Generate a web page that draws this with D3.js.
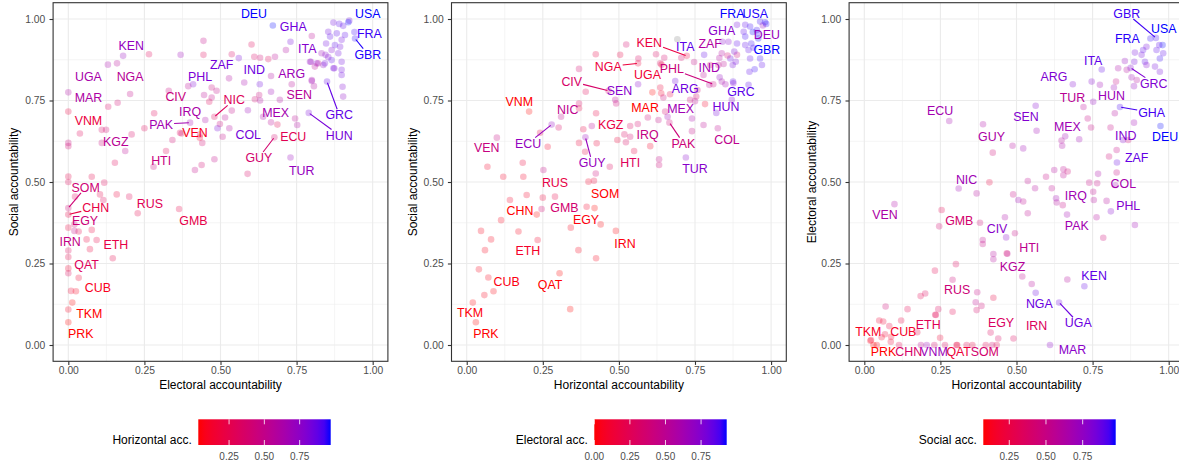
<!DOCTYPE html>
<html><head><meta charset="utf-8">
<script src="https://cdn.jsdelivr.net/npm/d3@7"></script>
<style>
body{margin:0;background:#fff}
svg{display:block}
text{font-family:"Liberation Sans",Arial,Helvetica,sans-serif}
</style>
</head><body>
<svg id="c" width="1179" height="466"></svg>
<script>
// ---------- labelled countries: electoral, horizontal, social accountability ----------
const codes =      ["PRK","TKM","CUB","QAT","ETH","IRN","EGY","CHN","SOM","RUS","GMB","HTI","KGZ","VNM","MAR","UGA","NGA","KEN","CIV","PHL","ZAF","IND","ARG","SEN","NIC","PAK","IRQ","VEN","COL","MEX","ECU","GUY","TUR","HUN","GRC","ITA","GHA","DEU","USA","FRA","GBR"];
const electoral =  [0,    0.013,0.025,0,    0.093,0.02, 0.02, 0,    0,    0.2,  0.364,0.28, 0.187,0,    0,    0.13, 0.16, 0.18, 0.33, 0.41, 0.56, 0.629,0.8,  0.734,0.48, 0.40, 0.45, 0.432,0.49, 0.64, 0.687,0.677,0.73, 0.79, 0.85, 0.845,0.73, 0.672,0.92, 0.94, 0.942];
const horizontal = [0.03, 0.02, 0.088,0.305,0.233,0.49, 0.44, 0.23, 0.42, 0.29, 0.246,0.47, 0.55, 0.205,0.61, 0.64, 0.563,0.723,0.466,0.81, 0.83, 0.85, 0.685,0.563,0.31, 0.666,0.63, 0.099,0.825,0.66, 0.279,0.39, 0.72, 0.82, 0.875,0.78, 0.84, 0.973,0.98, 0.94, 0.958];
const social =     [0.07, 0.13, 0.165,0.22, 0.322,0.35, 0.37, 0.40, 0.42, 0.455,0.417,0.547,0.595,0.716,0.775,0.86, 0.864,0.887,0.78, 0.80, 0.88, 0.80, 0.81, 0.80, 0.70, 0.682,0.69, 0.636,0.665,0.70, 0.676,0.637,0.575,0.712,0.808,0.89, 0.93, 0.98, 0.99, 0.96, 0.94];

// ---------- unlabelled countries, per panel: [x, y, colour value] ----------
// panel 1: [electoral, social, horizontal]
const others1 = [
[0,0.62,0.45],[0,0.61,0.4],[0,0.517,0.25],[0,0.50,0.3],[0,0.36,0.2],[0,0.29,0.3],[0,0.27,0.25],[0,0.235,0.15],[0,0.109,0.1],
[0.038,0.649,0.3],[0.077,0.516,0.25],[0.022,0.455,0.3],[0.034,0.348,0.25],[0.06,0.324,0.2],[0.077,0.353,0.2],[0.071,0.294,0.2],[0.146,0.266,0.25],[0.034,0.206,0.15],[0.009,0.166,0.15],
[0.11,0.66,0.35],[0.124,0.66,0.4],[0.11,0.62,0.45],[0.118,0.498,0.3],[0.153,0.559,0.3],[0.104,0.462,0.25],[0.115,0.445,0.3],[0.159,0.462,0.2],[0.228,0.404,0.25],
[0.131,0.731,0.35],[0.162,0.743,0.4],[0.208,0.646,0.35],[0.203,0.77,0.5],[0.265,0.892,0.3],[0.369,0.89,0.7],
[0.282,0.711,0.3],[0.25,0.665,0.3],[0.342,0.629,0.4],[0.321,0.595,0.3],[0.372,0.649,0.4],[0.394,0.794,0.55],[0.416,0.537,0.5],
[0.444,0.933,0.5],[0.444,0.89,0.3],[0.537,0.892,0.35],[0.602,0.922,0.3],[0.611,0.884,0.35],[0.63,0.881,0.4],[0.657,0.877,0.3],[0.679,0.884,0.55],[0.715,0.905,0.6],[0.8,0.948,0.55],
[0.471,0.79,0.45],[0.487,0.78,0.5],[0.446,0.767,0.55],[0.471,0.759,0.5],[0.463,0.746,0.3],[0.528,0.818,0.6],[0.578,0.805,0.65],[0.613,0.754,0.4],[0.627,0.767,0.45],[0.63,0.75,0.6],[0.666,0.825,0.6],[0.666,0.777,0.7],[0.695,0.752,0.6],
[0.498,0.678,0.45],[0.515,0.698,0.55],[0.537,0.719,0.5],[0.433,0.646,0.3],[0.44,0.62,0.4],[0.367,0.651,0.3],[0.507,0.639,0.5],[0.529,0.665,0.6],[0.59,0.72,0.7],[0.666,0.683,0.55],[0.745,0.695,0.55],[0.752,0.675,0.6],
[0.438,0.552,0.4],[0.48,0.57,0.5],[0.589,0.525,0.35],
[0.797,0.869,0.7],[0.821,0.864,0.5],[0.807,0.794,0.6],[0.903,0.762,0.75],[0.838,0.859,0.75],[0.874,0.849,0.8],[0.898,0.844,0.85],
[0.871,0.989,0.85],[0.89,0.985,0.9],[0.903,0.979,0.9],[0.923,0.995,0.85],[0.854,0.961,0.85],[0.86,0.946,0.9],[0.847,0.925,0.85],[0.882,0.956,0.9],[0.909,0.951,0.9],[0.898,0.936,0.85],[0.876,0.92,0.9],[0.893,0.915,0.85],[0.865,0.905,0.8],[0.832,0.895,0.7],[0.887,0.895,0.85],[0.854,0.883,0.8],[0.865,0.874,0.9],[0.843,0.864,0.85],[0.898,0.869,0.85],[0.794,0.869,0.75],[0.816,0.864,0.8],[0.81,0.854,0.55],[0.871,0.849,0.85],[0.898,0.828,0.85],[0.8,0.813,0.65],[0.901,0.792,0.8]
];
// panel 2: [horizontal, social, electoral]  (null = missing)
const others2 = [
[0.068,0.547,0.1],[0.12,0.516,0.1],[0.184,0.559,0.15],[0.186,0.516,0.1],[0.142,0.445,0.1],[0.197,0.46,0.1],[0.113,0.383,0.05],[0.25,0.452,0.15],[0.252,0.537,0.45],[0.047,0.35,0.05],[0.08,0.324,0.05],[0.06,0.291,0.05],[0.17,0.348,0.05],[0.04,0.232,0.05],[0.071,0.207,0.05],[0.058,0.153,0.05],[0.34,0.11,0.0],[0.342,0.36,0.05],[0.367,0.291,0.05],[0.394,0.424,0.1],[0.425,0.266,0.05],
[0.302,0.667,0.3],[0.241,0.651,0.2],[0.266,0.608,0.1],[0.369,0.847,0.35],[0.369,0.741,0.3],[0.369,0.726,0.2],[0.369,0.62,0.15],[0.391,0.777,0.25],[0.383,0.662,0.2],[0.389,0.593,0.2],[0.411,0.672,0.5],[0.424,0.892,0.2],[0.425,0.711,0.2],[0.427,0.619,0.15],[0.424,0.526,0.4],[0.4,0.501,0.1],
[0.504,0.89,0.2],[0.524,0.922,0.35],[0.564,0.879,0.3],[0.622,0.892,0.3],[0.649,0.881,0.35],[0.636,0.864,0.3],[0.692,0.938,null],[0.705,0.881,0.35],[0.747,0.868,0.45],[0.668,0.769,0.2],[0.639,0.772,0.1],[0.636,0.79,0.15],[0.646,0.759,0.4],[0.734,0.752,0.4],[0.754,0.762,0.35],[0.783,0.739,0.1],[0.488,0.752,0.5],[0.491,0.741,0.4],
[0.537,0.672,0.3],[0.562,0.678,0.35],[0.595,0.698,0.4],[0.518,0.646,0.3],[0.537,0.639,0.35],[0.523,0.622,0.3],[0.495,0.629,0.15],[0.603,0.61,0.1],[0.632,0.57,0.45],[0.632,0.552,0.4],[0.418,0.504,0.15],[0.652,0.716,0.35],[0.74,0.695,0.6],[0.778,0.675,0.5],[0.74,0.656,0.45],[0.75,0.748,0.5],
[0.797,0.798,0.5],[0.838,0.808,0.6],[0.876,0.803,0.75],[0.926,0.798,0.85],[0.871,0.752,0.75],[0.758,0.782,0.35],[0.831,0.821,0.7],[0.778,0.828,0.5],[0.8,0.859,0.3],[0.827,0.859,0.45],[0.844,0.862,0.5],[0.838,0.895,0.55],[0.866,0.879,0.85],[0.874,0.859,0.8],[0.884,0.869,0.8],[0.888,0.89,0.4],[0.879,0.9,0.8],[0.888,0.925,0.85],[0.86,0.93,0.75],
[0.915,0.92,0.85],[0.915,0.946,0.9],[0.91,0.961,0.85],[0.915,0.982,0.85],[0.931,0.977,0.9],[0.953,0.966,0.9],[0.888,0.982,0.8],[0.935,0.925,0.9],[0.942,0.912,0.9],[0.926,0.905,0.85],[0.931,0.879,0.85],[0.964,0.879,0.9],[0.97,0.859,0.85],[0.946,0.846,0.9],[0.929,0.838,0.85],[0.964,0.992,0.9],[0.984,0.985,0.92],[0.956,0.956,0.9],[0.857,0.888,0.35]
];
// panel 3: [horizontal, electoral, social]
const others3 = [
[0.422,0.59,0.45],[0.411,0.499,0.25],[0.369,0.465,0.6],[0.254,0.414,0.3],[0.38,0.375,0.45],[0.389,0.322,0.55],[0.389,0.31,0.5],[0.301,0.248,0.35],[0.424,0.279,0.6],[0.424,0.263,0.6],[0.232,0.228,0.3],[0.185,0.15,0.3],[0.2,0.158,0.35],[0.142,0.11,0.3],[0.07,0.118,0.45],[0.371,0.162,0.5],[0.366,0.131,0.55],[0.385,0.12,0.45],[0.369,0.107,0.4],[0.29,0.102,0.3],[0.243,0.11,0.35],[0.235,0.092,0.3],[0.174,0.039,0.25],[0.121,0.075,0.25],[0.049,0.075,0.2],[0.062,0.072,0.2],[0.082,0.058,0.25],[0.068,0.033,0.2],[0.057,0.024,0.15],[0.087,0.01,0.2],[0.022,0.015,0.15],
[0.041,0,0.1],[0.114,0,0.3],[0.186,0,0.55],[0.265,0,0.35],[0.303,0,0.25],[0.336,0,0.3],[0.355,0,0.25],[0.399,0,0.3],[0.435,0,0.3],[0.249,0.022,0.2],[0.424,0.145,0.25],[0.415,0.038,0.35],
[0.487,0.611,0.6],[0.522,0.603,0.7],[0.489,0.462,0.5],[0.506,0.445,0.7],[0.522,0.44,0.55],[0.537,0.503,0.55],[0.561,0.481,0.6],[0.537,0.404,0.55],[0.462,0.392,0.65],[0.495,0.343,0.5],[0.468,0.281,0.35],[0.519,0.21,0.55],[0.667,0.201,0.6],
[0.566,0.657,0.7],[0.747,0.808,0.8],[0.774,0.798,0.7],[0.752,0.746,0.75],[0.734,0.695,0.5],[0.745,0.667,0.5],[0.648,0.627,0.6],[0.65,0.611,0.65],[0.706,0.631,0.7],[0.624,0.537,0.6],[0.654,0.539,0.55],[0.668,0.532,0.45],[0.654,0.521,0.55],[0.597,0.516,0.5],[0.616,0.481,0.55],[0.632,0.437,0.6],[0.652,0.429,0.5],
[0.739,0.498,0.5],[0.768,0.525,0.65],[0.765,0.496,0.5],[0.752,0.47,0.55],[0.754,0.445,0.6],[0.763,0.392,0.6],[0.785,0.329,0.45],[0.796,0.442,0.6],[0.889,0.368,0.7],[0.829,0.529,0.5],[0.804,0.578,0.45],[0.829,0.598,0.5],[0.867,0.629,0.45],[0.809,0.667,0.5],[0.886,0.682,0.7],[0.823,0.711,0.6],
[0.827,0.808,0.5],[0.834,0.849,0.65],[0.856,0.871,0.75],[0.862,0.844,0.6],[0.878,0.821,0.7],[0.886,0.794,0.75],[0.887,0.869,0.85],[0.889,0.897,0.85],[0.911,0.89,0.85],[0.916,0.905,0.9],[0.927,0.915,0.85],[0.922,0.869,0.9],[0.927,0.859,0.8],[0.96,0.905,0.9],[0.971,0.879,0.95],[0.982,0.895,0.9],[0.969,0.92,0.9],[0.971,0.838,0.85],[0.955,0.854,0.85],[0.895,0.813,0.6]
];

// ---------- ticks ----------
const axisTicks = [0, 0.25, 0.5, 0.75, 1];
const minorTicks = [0.125, 0.375, 0.625, 0.875];
const legTicks1 = [0.25, 0.5, 0.75];
const legTicks2 = [0, 0.25, 0.5, 0.75];
const legTicks3 = [0.25, 0.5, 0.75];
const colDomain1 = [0.032, 0.97];   // horizontal acc. range
const colDomain2 = [0, 0.93];       // electoral acc. range
const colDomain3 = [0.073, 0.975];  // social acc. range

// ---------- repelled label positions (data units) ----------
const labelPos1 = {DEU:[0.610,1.017],USA:[0.984,1.017],GHA:[0.739,0.976],FRA:[0.989,0.954],ITA:[0.785,0.910],GBR:[0.984,0.892],KEN:[0.207,0.920],ZAF:[0.504,0.861],UGA:[0.066,0.825],NGA:[0.203,0.825],PHL:[0.433,0.825],IND:[0.611,0.844],ARG:[0.734,0.834],MAR:[0.066,0.759],CIV:[0.353,0.762],NIC:[0.545,0.752],SEN:[0.759,0.769],VNM:[0.066,0.688],PAK:[0.305,0.677],IRQ:[0.400,0.716],MEX:[0.681,0.713],GRC:[0.890,0.706],VEN:[0.416,0.651],KGZ:[0.156,0.624],COL:[0.591,0.646],ECU:[0.739,0.639],HUN:[0.890,0.644],HTI:[0.305,0.567],GUY:[0.626,0.575],TUR:[0.767,0.535],SOM:[0.057,0.484],CHN:[0.090,0.421],RUS:[0.268,0.433],EGY:[0.055,0.383],GMB:[0.411,0.383],IRN:[0.006,0.317],ETH:[0.156,0.309],QAT:[0.060,0.248],CUB:[0.097,0.177],TKM:[0.069,0.097],PRK:[0.041,0.036]};
const labelPos2 = {FRA:[0.872,1.017],USA:[0.948,1.017],GHA:[0.838,0.964],DEU:[0.986,0.951],ITA:[0.718,0.915],ZAF:[0.800,0.925],GBR:[0.986,0.905],KEN:[0.600,0.929],NGA:[0.465,0.854],UGA:[0.594,0.831],PHL:[0.674,0.847],IND:[0.797,0.851],CIV:[0.345,0.808],SEN:[0.502,0.782],ARG:[0.718,0.787],GRC:[0.901,0.779],VNM:[0.173,0.746],MAR:[0.586,0.729],MEX:[0.703,0.724],HUN:[0.852,0.731],NIC:[0.332,0.721],KGZ:[0.473,0.677],IRQ:[0.594,0.646],COL:[0.855,0.631],PAK:[0.712,0.619],ECU:[0.202,0.619],VEN:[0.066,0.605],HTI:[0.537,0.560],GUY:[0.412,0.560],TUR:[0.750,0.540],RUS:[0.290,0.499],SOM:[0.455,0.465],CHN:[0.175,0.412],GMB:[0.321,0.421],EGY:[0.392,0.386],IRN:[0.520,0.312],ETH:[0.201,0.289],CUB:[0.131,0.194],QAT:[0.274,0.186],TKM:[0.011,0.100],PRK:[0.063,0.036]};
const labelPos3 = {GBR:[0.862,1.017],USA:[0.984,0.971],FRA:[0.864,0.941],ITA:[0.752,0.874],GRC:[0.951,0.803],ARG:[0.623,0.825],TUR:[0.684,0.759],HUN:[0.812,0.765],GHA:[0.944,0.713],SEN:[0.531,0.702],MEX:[0.667,0.670],IND:[0.859,0.641],DEU:[0.988,0.639],ECU:[0.249,0.718],GUY:[0.418,0.639],ZAF:[0.895,0.576],NIC:[0.336,0.509],COL:[0.851,0.496],IRQ:[0.695,0.458],PHL:[0.867,0.429],VEN:[0.068,0.399],GMB:[0.312,0.381],CIV:[0.436,0.358],PAK:[0.698,0.366],HTI:[0.542,0.300],KGZ:[0.487,0.240],KEN:[0.755,0.212],RUS:[0.305,0.171],NGA:[0.575,0.126],UGA:[0.703,0.068],EGY:[0.449,0.068],IRN:[0.566,0.061],ETH:[0.210,0.064],TKM:[0.013,0.041],CUB:[0.128,0.041],MAR:[0.684,-0.013],PRK:[0.063,-0.021],CHN:[0.146,-0.021],VNM:[0.229,-0.021],QAT:[0.310,-0.021],SOM:[0.396,-0.021]};
const seg1 = ["GBR","HUN","GRC","NIC","PAK","SOM","CHN","GUY"];
const seg2 = ["KEN","NGA","PHL","CIV","ECU","GUY","PAK"];
const seg3 = ["GBR","GRC","GHA","UGA"];

// ---------- layout ----------
const svg = d3.select("#c");
const PT = 2.7, PB = 361.3, PW = 334.8;
const FONT_LABEL = 12.4;
const panels = [
  {left:53.1, xv:electoral, yv:social, cv:horizontal, others:others1, lab:labelPos1, seg:seg1,
   xt:"Electoral accountability", yt:"Social accountability", lt:"Horizontal acc.", cd:colDomain1, lticks:legTicks1, lx:198.3, ytx:14},
  {left:451.5, xv:horizontal, yv:social, cv:electoral, others:others2, lab:labelPos2, seg:seg2,
   xt:"Horizontal accountability", yt:"Social accountability", lt:"Electoral acc.", cd:colDomain2, lticks:legTicks2, lx:594.3, ytx:413},
  {left:849.1, xv:horizontal, yv:electoral, cv:social, others:others3, lab:labelPos3, seg:seg3,
   xt:"Horizontal accountability", yt:"Electoral accountability", lt:"Social acc.", cd:colDomain3, lticks:legTicks3, lx:983.3, ytx:811.5}
];

const defs = svg.append("defs");

panels.forEach((p, pi) => {
  const x = d3.scaleLinear().domain([-0.05, 1.05]).range([p.left, p.left + PW]);
  const y = d3.scaleLinear().domain([-0.05, 1.05]).range([PB, PT]);
  const col = d3.scaleLinear().domain(p.cd).range(["#ff0000", "#0000ff"]).interpolate(d3.interpolateLab).clamp(true);
  const colOf = v => v == null ? "#7f7f7f" : col(v);
  const g = svg.append("g");

  g.append("rect").attr("x", p.left).attr("y", PT).attr("width", PW).attr("height", PB - PT).attr("fill", "#fff");
  minorTicks.forEach(t => {
    g.append("line").attr("x1", x(t)).attr("x2", x(t)).attr("y1", PT).attr("y2", PB).attr("stroke", "#ebebeb").attr("stroke-width", 0.55);
    g.append("line").attr("y1", y(t)).attr("y2", y(t)).attr("x1", p.left).attr("x2", p.left + PW).attr("stroke", "#ebebeb").attr("stroke-width", 0.55);
  });
  axisTicks.forEach(t => {
    g.append("line").attr("x1", x(t)).attr("x2", x(t)).attr("y1", PT).attr("y2", PB).attr("stroke", "#ebebeb").attr("stroke-width", 1.1);
    g.append("line").attr("y1", y(t)).attr("y2", y(t)).attr("x1", p.left).attr("x2", p.left + PW).attr("stroke", "#ebebeb").attr("stroke-width", 1.1);
  });

  g.selectAll("circle.o").data(p.others).join("circle")
    .attr("cx", d => x(d[0])).attr("cy", d => y(d[1])).attr("r", 3.3)
    .attr("fill", d => colOf(d[2])).attr("fill-opacity", 0.26);
  const pts = codes.map((c, i) => ({code: c, x: p.xv[i], y: p.yv[i], c: p.cv[i]}));
  g.selectAll("circle.l").data(pts).join("circle")
    .attr("cx", d => x(d.x)).attr("cy", d => y(d.y)).attr("r", 3.3)
    .attr("fill", d => colOf(d.c)).attr("fill-opacity", 0.26);

  const segG = g.append("g");
  const labG = g.append("g");
  pts.forEach(d => {
    const lp = p.lab[d.code];
    if (!lp) return;
    const lx = x(lp[0]), ly = y(lp[1]);
    const t = labG.append("text").attr("x", lx).attr("y", ly).attr("dy", "0.36em")
      .attr("text-anchor", "middle").attr("font-size", FONT_LABEL).attr("fill", colOf(d.c)).text(d.code);
    if (p.seg.includes(d.code)) {
      const w = t.node().getComputedTextLength();
      const hw = w / 2 + 1, hh = FONT_LABEL * 0.45;
      const px = x(d.x), py = y(d.y);
      const dx = px - lx, dy = py - ly;
      const s = Math.min(dx === 0 ? Infinity : hw / Math.abs(dx), dy === 0 ? Infinity : hh / Math.abs(dy));
      if (s < 1) {
        const len = Math.hypot(dx, dy);
        const shrink = 1 - 1.2 / len;
        segG.append("line").attr("x1", lx + dx * s).attr("y1", ly + dy * s)
          .attr("x2", lx + dx * shrink).attr("y2", ly + dy * shrink)
          .attr("stroke", colOf(d.c)).attr("stroke-width", 1.1);
      }
    }
  });

  g.append("rect").attr("x", p.left).attr("y", PT).attr("width", PW).attr("height", PB - PT)
    .attr("fill", "none").attr("stroke", "#333333").attr("stroke-width", 1.1);

  const fmt = d3.format(".2f");
  const ay = g.append("g").attr("transform", `translate(${p.left},0)`)
    .call(d3.axisLeft(y).tickValues(axisTicks).tickFormat(fmt).tickSize(3.6).tickPadding(4.3));
  const ax = g.append("g").attr("transform", `translate(0,${PB})`)
    .call(d3.axisBottom(x).tickValues(axisTicks).tickFormat(fmt).tickSize(3.6).tickPadding(1.6));
  [ax, ay].forEach(a => {
    a.select(".domain").remove();
    a.selectAll(".tick line").attr("stroke", "#333333").attr("stroke-width", 1.1);
    a.selectAll(".tick text").attr("fill", "#4d4d4d").attr("font-size", 10.3)
      .attr("font-family", '"Liberation Sans",Arial,Helvetica,sans-serif');
  });

  g.append("text").attr("x", p.left + PW / 2).attr("y", 385).attr("dy", "0.35em")
    .attr("text-anchor", "middle").attr("font-size", 12).attr("fill", "#000").text(p.xt);
  g.append("text").attr("transform", `translate(${p.ytx},${(PT + PB) / 2}) rotate(-90)`).attr("dy", "0.35em")
    .attr("text-anchor", "middle").attr("font-size", 12).attr("fill", "#000").text(p.yt);

  const lw = 132.4, ly0 = 419.3, lh = 25.7;
  const ls = d3.scaleLinear().domain(p.cd).range([p.lx, p.lx + lw]);
  const gid = "grad" + pi;
  const grad = defs.append("linearGradient").attr("id", gid).attr("x1", "0%").attr("x2", "100%");
  d3.range(0, 1.0001, 0.05).forEach(f => {
    grad.append("stop").attr("offset", (f * 100) + "%").attr("stop-color", col(p.cd[0] + f * (p.cd[1] - p.cd[0])));
  });
  g.append("rect").attr("x", p.lx).attr("y", ly0).attr("width", lw).attr("height", lh).attr("fill", `url(#${gid})`);
  p.lticks.forEach(t => {
    g.append("line").attr("x1", ls(t)).attr("x2", ls(t)).attr("y1", ly0).attr("y2", ly0 + 5).attr("stroke", "#fff").attr("stroke-width", 0.8);
    g.append("line").attr("x1", ls(t)).attr("x2", ls(t)).attr("y1", ly0 + lh - 5).attr("y2", ly0 + lh).attr("stroke", "#fff").attr("stroke-width", 0.8);
    g.append("text").attr("x", ls(t)).attr("y", 460).attr("text-anchor", "middle").attr("font-size", 10).attr("fill", "#4d4d4d").text(fmt(t));
  });
  g.append("text").attr("x", p.lx - 6.5).attr("y", 443.5).attr("text-anchor", "end")
    .attr("font-size", 12).attr("fill", "#000").text(p.lt);
});
</script>
</body></html>
